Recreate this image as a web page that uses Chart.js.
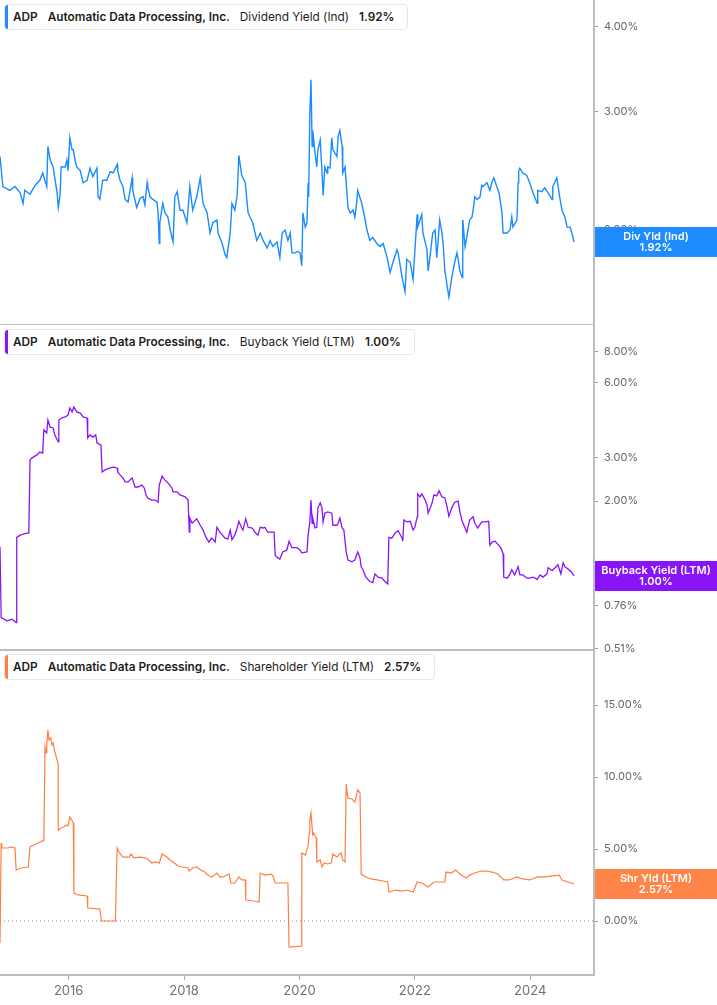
<!DOCTYPE html>
<html lang="en">
<head>
  <meta charset="UTF-8">
  <title>ADP yields</title>
  <script src="https://cdn.jsdelivr.net/npm/chart.js"></script>
  <style>
    body { margin: 0; background: #fff; font-family: Inter, "Noto Sans", sans-serif; }
    #wrap { position: relative; width: 717px; height: 1005px; }
    .panel { position: absolute; left: 0; }
    .legend {
      position: absolute; left: 4px; height: 26px; box-sizing: border-box;
      display: flex; align-items: center; gap: 10px;
      padding: 0 13px 0 8px; background: #fff;
      border: 1px solid #e8e8e8; border-radius: 4px;
      font-size: 11.8px; color: #1c1c1c; white-space: nowrap; overflow: hidden;
    }
    .legend .bar { position: absolute; left: -1px; top: -1px; bottom: -1px; width: 4px; border-radius: 4px 0 0 4px; }
    .legend b { font-weight: 600; }
  </style>
</head>
<body>
<div id="wrap">
  <canvas id="divChart" class="panel" style="top:0" width="717" height="325"></canvas>
  <canvas id="bbChart" class="panel" style="top:325px" width="717" height="337"></canvas>
  <canvas id="shrChart" class="panel" style="top:650px" width="717" height="355"></canvas>

  <div class="legend" style="top:4px"><span class="bar" style="background:#1e8cff"></span><b>ADP</b><b>Automatic Data Processing, Inc.</b><span>Dividend Yield (Ind)</span><b>1.92%</b></div>
  <div class="legend" style="top:329px"><span class="bar" style="background:#8a14f8"></span><b>ADP</b><b>Automatic Data Processing, Inc.</b><span>Buyback Yield (LTM)</span><b>1.00%</b></div>
  <div class="legend" style="top:654px"><span class="bar" style="background:#ff7f42"></span><b>ADP</b><b>Automatic Data Processing, Inc.</b><span>Shareholder Yield (LTM)</span><b>2.57%</b></div>
</div>

<script>
  // x axis, decimal years
  const xMin = 2014.81;
  const xMax = 2025.105;
  const yearTicks = [2016, 2018, 2020, 2022, 2024];

  // Dividend Yield (Ind), %
  const divYears = [2014.81,2014.86,2014.98,2015.07,2015.16,2015.21,2015.24,2015.33,2015.42,2015.50,2015.55,2015.62,2015.64,2015.68,2015.73,2015.80,2015.82,2015.85,2015.87,2015.94,2015.97,2015.99,2016.02,2016.06,2016.08,2016.11,2016.14,2016.20,2016.25,2016.32,2016.37,2016.42,2016.49,2016.51,2016.54,2016.59,2016.66,2016.72,2016.77,2016.84,2016.85,2016.89,2016.94,2016.98,2017.03,2017.10,2017.11,2017.18,2017.24,2017.29,2017.32,2017.36,2017.37,2017.41,2017.46,2017.53,2017.55,2017.57,2017.58,2017.63,2017.67,2017.72,2017.76,2017.81,2017.84,2017.88,2017.93,2017.98,2018.05,2018.10,2018.15,2018.22,2018.28,2018.33,2018.40,2018.45,2018.50,2018.57,2018.59,2018.66,2018.71,2018.74,2018.80,2018.83,2018.88,2018.92,2018.95,2019.00,2019.06,2019.11,2019.19,2019.26,2019.32,2019.37,2019.44,2019.49,2019.54,2019.61,2019.66,2019.70,2019.75,2019.80,2019.84,2019.87,2019.92,2019.97,2020.01,2020.04,2020.06,2020.10,2020.13,2020.15,2020.16,2020.18,2020.20,2020.22,2020.23,2020.27,2020.30,2020.32,2020.36,2020.39,2020.41,2020.44,2020.48,2020.49,2020.53,2020.56,2020.58,2020.65,2020.67,2020.70,2020.74,2020.75,2020.79,2020.82,2020.84,2020.88,2020.93,2020.96,2020.99,2021.01,2021.08,2021.13,2021.17,2021.22,2021.27,2021.34,2021.40,2021.45,2021.52,2021.57,2021.62,2021.69,2021.71,2021.78,2021.83,2021.86,2021.92,2021.97,2022.04,2022.05,2022.12,2022.14,2022.21,2022.23,2022.26,2022.31,2022.35,2022.38,2022.40,2022.43,2022.47,2022.49,2022.52,2022.57,2022.59,2022.64,2022.69,2022.73,2022.75,2022.78,2022.82,2022.83,2022.87,2022.90,2022.95,2022.99,2023.01,2023.04,2023.08,2023.13,2023.16,2023.18,2023.25,2023.30,2023.34,2023.37,2023.42,2023.46,2023.51,2023.53,2023.60,2023.65,2023.68,2023.70,2023.77,2023.79,2023.80,2023.82,2023.87,2023.94,2023.99,2024.05,2024.12,2024.13,2024.20,2024.25,2024.31,2024.38,2024.39,2024.46,2024.51,2024.55,2024.60,2024.64,2024.69,2024.72,2024.76];
  const divValues = [2.57,2.32,2.29,2.32,2.27,2.19,2.29,2.26,2.33,2.37,2.43,2.32,2.66,2.54,2.48,2.27,2.16,2.25,2.48,2.48,2.54,2.45,2.74,2.63,2.63,2.54,2.48,2.45,2.35,2.37,2.47,2.40,2.47,2.24,2.22,2.37,2.37,2.44,2.43,2.50,2.45,2.37,2.32,2.22,2.20,2.39,2.29,2.16,2.23,2.24,2.18,2.35,2.32,2.24,2.22,2.20,2.12,1.91,2.05,2.19,2.12,2.09,2.00,1.92,2.24,2.28,2.14,2.14,2.05,2.32,2.14,2.24,2.39,2.19,2.12,1.98,2.05,2.07,1.98,1.91,1.84,1.82,1.98,2.19,2.14,2.25,2.58,2.41,2.35,2.12,2.05,1.93,1.98,1.93,1.88,1.93,1.89,1.92,1.82,1.98,2.00,1.93,1.98,1.85,1.85,1.86,1.85,1.77,2.12,2.02,2.05,2.35,2.24,2.98,3.34,2.66,2.81,2.60,2.48,2.63,2.72,2.45,2.25,2.48,2.43,2.48,2.47,2.74,2.63,2.57,2.75,2.81,2.66,2.43,2.48,2.29,2.16,2.12,2.14,2.09,2.19,2.29,2.19,2.09,2.00,1.93,1.95,1.91,1.89,1.91,1.82,1.73,1.79,1.87,1.85,1.70,1.62,1.81,1.79,1.69,2.11,2.02,2.11,1.98,1.87,1.74,1.82,1.98,2.00,1.82,1.91,2.07,1.98,1.91,1.74,1.63,1.59,1.70,1.79,1.85,1.81,1.74,1.70,2.07,1.89,1.95,2.07,2.09,2.14,2.24,2.22,2.24,2.33,2.32,2.35,2.29,2.36,2.39,2.32,2.27,2.12,1.98,1.98,2.00,2.09,2.02,2.07,2.35,2.45,2.47,2.43,2.41,2.35,2.27,2.19,2.29,2.28,2.31,2.27,2.22,2.32,2.39,2.24,2.14,2.09,2.02,2.02,1.98,1.92];
  const divTicks = [2, 3, 4];

  // Buyback Yield (LTM), %
  const bbYears = [2014.81,2014.83,2014.93,2015.02,2015.09,2015.10,2015.16,2015.24,2015.31,2015.33,2015.36,2015.45,2015.50,2015.55,2015.57,2015.62,2015.64,2015.68,2015.73,2015.76,2015.82,2015.83,2015.88,2015.94,2015.99,2016.02,2016.06,2016.09,2016.14,2016.20,2016.25,2016.32,2016.33,2016.37,2016.42,2016.47,2016.49,2016.56,2016.58,2016.63,2016.72,2016.77,2016.84,2016.85,2016.89,2016.94,2016.98,2017.03,2017.10,2017.15,2017.20,2017.27,2017.31,2017.34,2017.37,2017.44,2017.50,2017.55,2017.57,2017.62,2017.67,2017.72,2017.79,2017.81,2017.88,2017.93,2018.02,2018.07,2018.09,2018.10,2018.14,2018.15,2018.22,2018.28,2018.33,2018.38,2018.43,2018.48,2018.54,2018.57,2018.62,2018.71,2018.76,2018.80,2018.83,2018.88,2018.92,2018.95,2019.00,2019.02,2019.07,2019.11,2019.18,2019.23,2019.28,2019.32,2019.37,2019.40,2019.45,2019.52,2019.56,2019.58,2019.63,2019.66,2019.71,2019.78,2019.82,2019.87,2019.96,2020.01,2020.04,2020.13,2020.15,2020.18,2020.20,2020.22,2020.23,2020.27,2020.30,2020.32,2020.36,2020.39,2020.41,2020.44,2020.49,2020.56,2020.58,2020.65,2020.67,2020.70,2020.74,2020.77,2020.81,2020.84,2020.91,2020.96,2021.01,2021.05,2021.07,2021.10,2021.15,2021.22,2021.27,2021.31,2021.36,2021.43,2021.48,2021.53,2021.55,2021.60,2021.66,2021.71,2021.78,2021.79,2021.81,2021.86,2021.92,2021.97,2022.00,2022.04,2022.05,2022.09,2022.12,2022.18,2022.21,2022.23,2022.30,2022.33,2022.38,2022.42,2022.47,2022.52,2022.56,2022.59,2022.64,2022.69,2022.75,2022.78,2022.82,2022.87,2022.90,2022.95,2023.01,2023.04,2023.09,2023.16,2023.22,2023.28,2023.30,2023.34,2023.39,2023.44,2023.49,2023.53,2023.54,2023.60,2023.65,2023.68,2023.73,2023.79,2023.82,2023.87,2023.94,2023.99,2024.05,2024.12,2024.17,2024.22,2024.29,2024.31,2024.38,2024.43,2024.48,2024.53,2024.57,2024.60,2024.65,2024.71,2024.76];
  const bbValues = [1.31,0.68,0.66,0.67,0.65,1.43,1.46,1.48,1.49,2.93,2.98,3.07,3.15,3.12,3.87,3.76,4.24,3.97,3.94,3.69,3.46,4.24,4.32,4.36,4.44,4.74,4.57,4.78,4.57,4.52,4.36,4.32,3.59,3.69,3.62,3.69,3.43,3.36,2.62,2.67,2.72,2.74,2.72,2.62,2.55,2.48,2.39,2.39,2.48,2.28,2.28,2.32,2.26,2.12,2.06,2.02,2.02,1.98,2.32,2.52,2.43,2.37,2.26,2.18,2.18,2.12,2.08,2.02,1.50,1.71,1.63,1.63,1.70,1.60,1.53,1.43,1.37,1.42,1.37,1.57,1.50,1.42,1.41,1.53,1.40,1.46,1.56,1.66,1.56,1.53,1.70,1.57,1.56,1.50,1.46,1.57,1.56,1.57,1.50,1.50,1.50,1.21,1.18,1.17,1.25,1.27,1.38,1.30,1.30,1.27,1.24,1.25,1.46,1.65,2.02,1.63,1.71,1.56,1.57,1.88,1.97,1.88,1.65,1.79,1.81,1.79,1.60,1.60,1.63,1.71,1.56,1.53,1.25,1.16,1.14,1.16,1.25,1.18,1.09,1.06,0.99,0.95,0.94,1.02,0.99,0.98,0.95,0.93,1.43,1.42,1.49,1.52,1.42,1.38,1.68,1.65,1.66,1.53,1.57,1.73,2.14,2.08,2.14,2.02,1.93,1.79,1.97,2.12,2.10,2.20,2.08,2.06,1.89,1.74,1.88,1.98,2.00,1.81,1.66,1.56,1.50,1.68,1.73,1.63,1.56,1.65,1.65,1.66,1.33,1.37,1.38,1.34,1.30,1.23,0.99,0.98,1.02,1.06,1.01,1.09,1.01,1.01,0.98,0.98,0.99,0.97,1.01,0.99,1.02,1.08,1.05,1.08,1.11,1.02,1.13,1.09,1.07,1.04,1.00];
  const bbTicks = [0.51, 0.76, 1, 2, 3, 6, 8];

  // Shareholder Yield (LTM), %
  const shrYears = [2014.81,2014.83,2014.84,2014.95,2015.00,2015.07,2015.09,2015.17,2015.30,2015.33,2015.40,2015.47,2015.54,2015.57,2015.59,2015.61,2015.62,2015.64,2015.66,2015.69,2015.71,2015.73,2015.76,2015.80,2015.82,2015.82,2015.87,2015.92,2015.95,2015.99,2016.02,2016.08,2016.09,2016.16,2016.32,2016.33,2016.54,2016.57,2016.81,2016.84,2016.87,2016.94,2017.05,2017.08,2017.13,2017.24,2017.31,2017.37,2017.44,2017.50,2017.57,2017.62,2017.70,2017.76,2017.83,2017.90,2017.96,2018.07,2018.09,2018.15,2018.22,2018.29,2018.36,2018.41,2018.48,2018.57,2018.62,2018.68,2018.74,2018.78,2018.81,2018.88,2018.95,2019.00,2019.06,2019.07,2019.21,2019.30,2019.32,2019.40,2019.51,2019.54,2019.58,2019.66,2019.73,2019.80,2019.82,2020.03,2020.04,2020.10,2020.15,2020.17,2020.18,2020.20,2020.23,2020.25,2020.29,2020.30,2020.36,2020.39,2020.43,2020.49,2020.55,2020.58,2020.65,2020.72,2020.75,2020.79,2020.81,2020.84,2020.91,2020.96,2021.01,2021.05,2021.07,2021.15,2021.24,2021.34,2021.45,2021.53,2021.55,2021.67,2021.78,2021.86,2021.97,2022.04,2022.12,2022.23,2022.33,2022.42,2022.52,2022.54,2022.63,2022.71,2022.78,2022.89,2022.95,2023.04,2023.15,2023.25,2023.34,2023.44,2023.54,2023.63,2023.77,2023.87,2023.99,2024.13,2024.26,2024.39,2024.50,2024.55,2024.65,2024.76];
  const shrValues = [-1.53,5.42,5.07,5.07,5.14,5.07,3.54,3.68,3.75,5.14,5.28,5.42,5.56,5.56,12.08,11.67,12.22,13.26,12.57,12.71,12.22,12.36,11.74,11.18,10.83,6.32,6.46,6.53,6.67,6.60,7.22,6.81,1.94,1.81,1.74,0.90,0.83,0.00,0.00,5.07,4.79,4.44,4.44,4.65,4.38,4.44,4.38,4.31,4.03,4.10,4.03,4.65,4.44,4.24,4.03,3.82,3.75,3.68,3.47,3.68,3.75,3.54,3.40,3.19,3.06,3.33,3.06,3.06,3.19,3.26,2.64,2.64,3.06,2.85,2.85,1.46,1.39,1.32,3.33,3.19,3.26,3.13,2.64,2.64,2.64,2.64,-1.81,-1.74,4.72,4.58,5.21,6.11,7.01,7.50,5.97,6.11,5.76,4.10,4.24,3.75,4.03,3.96,4.03,4.65,4.44,4.72,4.24,4.10,9.51,8.54,8.47,8.26,9.10,8.89,3.26,3.06,2.92,2.85,2.78,2.71,2.01,2.15,2.08,2.15,2.01,2.71,2.64,2.36,2.71,2.71,2.71,3.40,3.33,3.54,3.26,2.99,3.19,3.33,3.47,3.47,3.40,3.26,2.85,2.85,3.06,2.92,2.85,3.06,3.06,3.13,3.19,2.85,2.71,2.57];
  const shrTicks = [0, 5, 10, 15];
  const zeroLine = [0, 0];

  const gridGrey = '#bdbdbd';
  const tickFont = { family: 'Inter', size: 11 };

  // coloured box with last value, on the right axis
  const lastValueBox = {
    id: 'lastValueBox',
    afterDraw(chart, args, opts) {
      if (!opts.title) return;
      const { ctx, chartArea, scales } = chart;
      const y = scales.y.getPixelForValue(opts.value);
      const h = 30;
      const left = chartArea.right + 1;
      ctx.save();
      ctx.fillStyle = opts.color;
      ctx.fillRect(left, y - h / 2, chart.width - left, h);
      ctx.fillStyle = '#fff';
      ctx.font = '600 11px Inter';
      ctx.textAlign = 'center';
      ctx.textBaseline = 'middle';
      const cx = (left + chart.width) / 2;
      ctx.fillText(opts.title, cx, y - 5.5);
      ctx.fillText(opts.text, cx, y + 5.5);
      ctx.restore();
    }
  };

  function toPoints(xs, ys) {
    return xs.map((x, i) => ({ x: x, y: ys[i] }));
  }

  function makePanel(id, cfg) {
    const datasets = [{
      data: toPoints(cfg.years, cfg.values),
      borderColor: cfg.color,
      borderWidth: cfg.lineWidth,
      pointRadius: 0,
      tension: 0
    }];
    if (cfg.zero) {
      datasets.push({
        data: toPoints([xMin, xMax], zeroLine),
        borderColor: '#8a8a8a',
        borderWidth: 1,
        borderDash: [1, 3],
        pointRadius: 0
      });
    }
    return new Chart(document.getElementById(id), {
      type: 'line',
      data: { datasets: datasets },
      plugins: [lastValueBox],
      options: {
        responsive: false,
        animation: false,
        events: [],
        layout: { padding: { bottom: cfg.padBottom || 0 } },
        plugins: {
          legend: { display: false },
          tooltip: { enabled: false },
          lastValueBox: { title: cfg.boxTitle, text: cfg.boxText, value: cfg.last, color: cfg.boxColor }
        },
        scales: {
          x: {
            type: 'linear', min: xMin, max: xMax,
            afterBuildTicks: s => { s.ticks = yearTicks.map(v => ({ value: v })); },
            afterFit: s => { s.height = cfg.bottom ? 30 : 0; s.paddingLeft = 0; s.paddingRight = 0; },
            ticks: {
              display: !!cfg.bottom, autoSkip: false, maxRotation: 0,
              color: '#707070', font: { family: 'Inter', size: 13 }, padding: 3,
              callback: v => String(v)
            },
            grid: { drawOnChartArea: false, drawTicks: !!cfg.bottom, tickLength: 5, tickColor: '#aaa' },
            border: { color: gridGrey, width: 2 }
          },
          y: {
            type: cfg.yType, position: 'right', min: cfg.yMin, max: cfg.yMax,
            afterFit: s => { s.width = 123; s.paddingTop = 0; s.paddingBottom = 0; },
            afterBuildTicks: s => { s.ticks = cfg.ticks.map(v => ({ value: v })); },
            ticks: {
              autoSkip: false, color: '#666', font: tickFont, padding: 6,
              callback: v => Number(v).toFixed(2) + '%'
            },
            grid: { drawOnChartArea: false, tickLength: 4, tickColor: '#999' },
            border: { color: gridGrey, width: 2 }
          }
        }
      }
    });
  }

  makePanel('divChart', {
    years: divYears, values: divValues, color: '#1a8cff', lineWidth: 1.4,
    yType: 'logarithmic', yMin: 1.446, yMax: 4.386, ticks: divTicks,
    boxTitle: 'Div Yld (Ind)', boxText: '1.92%', last: 1.92, boxColor: '#1e8cff'
  });

  makePanel('bbChart', {
    years: bbYears, values: bbValues, color: '#8a14f8', lineWidth: 1.3,
    yType: 'logarithmic', yMin: 0.504, yMax: 10.22, ticks: bbTicks, padBottom: 12,
    boxTitle: 'Buyback Yield (LTM)', boxText: '1.00%', last: 1.00, boxColor: '#8a14f8'
  });

  makePanel('shrChart', {
    years: shrYears, values: shrValues, color: '#ff7f42', lineWidth: 1.2,
    yType: 'linear', yMin: -3.75, yMax: 18.82, ticks: shrTicks, zero: true, bottom: true,
    boxTitle: 'Shr Yld (LTM)', boxText: '2.57%', last: 2.57, boxColor: '#ff8447'
  });
</script>
</body>
</html>
